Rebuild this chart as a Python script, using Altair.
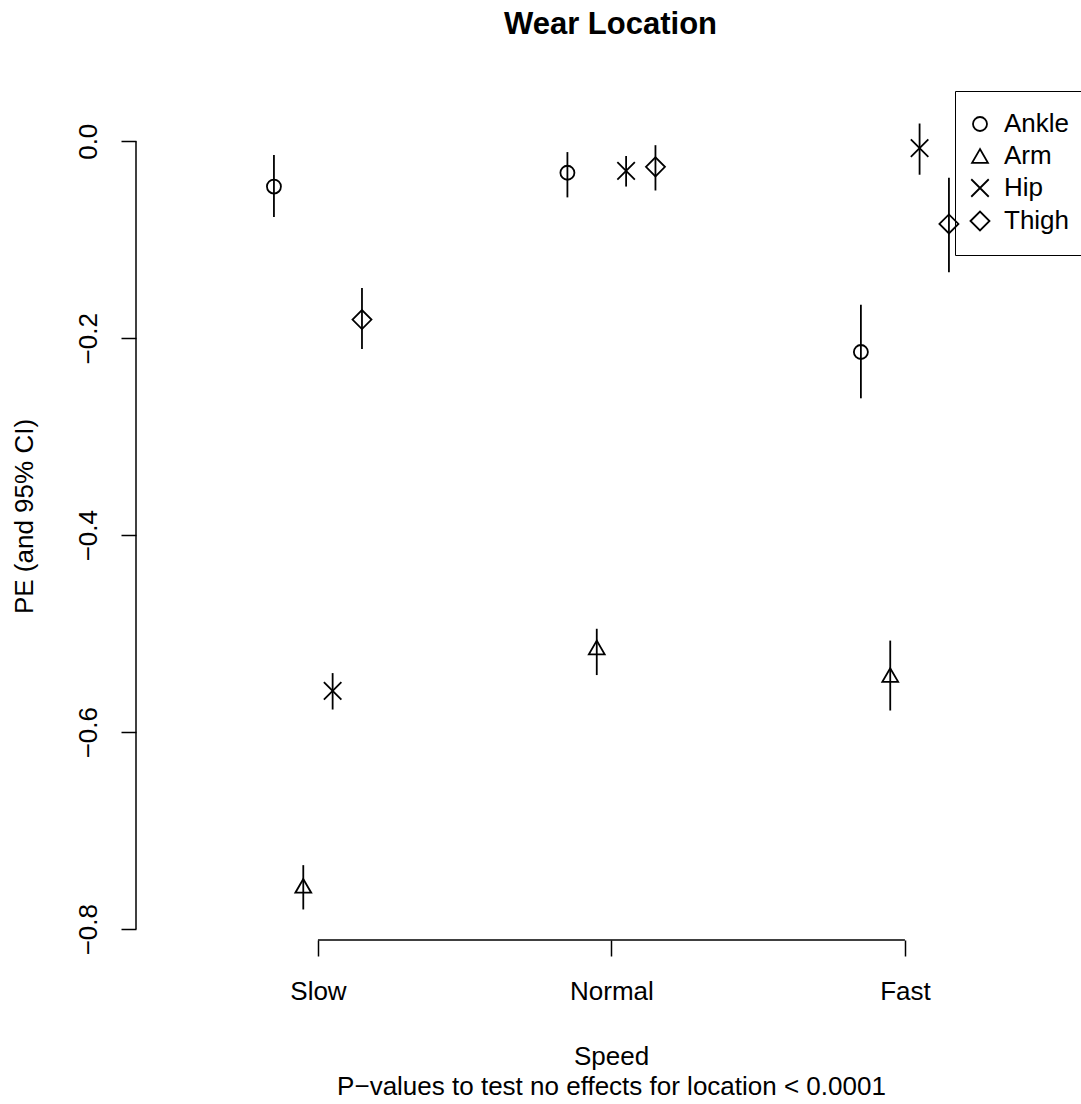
import altair as alt
import pandas as pd

# ---- data -------------------------------------------------------------
speeds = ["Slow", "Normal", "Fast"]
locations = ["Ankle", "Arm", "Hip", "Thigh"]

# point estimates per location, ordered Slow, Normal, Fast
pe_ankle = [-0.046, -0.032, -0.214]
pe_arm = [-0.756, -0.514, -0.542]
pe_hip = [-0.558, -0.030, -0.007]
pe_thigh = [-0.181, -0.026, -0.084]

# lower 95% CI bounds
lo_ankle = [-0.077, -0.057, -0.261]
lo_arm = [-0.780, -0.542, -0.578]
lo_hip = [-0.577, -0.046, -0.034]
lo_thigh = [-0.211, -0.050, -0.133]

# upper 95% CI bounds
hi_ankle = [-0.014, -0.011, -0.166]
hi_arm = [-0.735, -0.495, -0.507]
hi_hip = [-0.540, -0.015, 0.018]
hi_thigh = [-0.149, -0.004, -0.037]

y_ticks = [-0.8, -0.6, -0.4, -0.2, 0.0]
x_title = ["Speed", "P\u2212values to test no effects for location < 0.0001"]

pe = {"Ankle": pe_ankle, "Arm": pe_arm, "Hip": pe_hip, "Thigh": pe_thigh}
lo = {"Ankle": lo_ankle, "Arm": lo_arm, "Hip": lo_hip, "Thigh": lo_thigh}
hi = {"Ankle": hi_ankle, "Arm": hi_arm, "Hip": hi_hip, "Thigh": hi_thigh}

# side-by-side dodge of the four locations within each speed
dodge = {"Ankle": -0.15, "Arm": -0.05, "Hip": 0.05, "Thigh": 0.15}

rows = []
for loc in locations:
    for i, sp in enumerate(speeds):
        rows.append({
            "location": loc,
            "speed": sp,
            "pos": i + 1 + dodge[loc],
            "pe": pe[loc][i],
            "lo": lo[loc][i],
            "hi": hi[loc][i],
        })
df = pd.DataFrame(rows)

# ---- layout -----------------------------------------------------------
W, H = 945, 848
FONT = "Liberation Sans"

xscale = alt.Scale(domain=[0.38, 3.6], nice=False, zero=False)
yscale = alt.Scale(domain=[-0.811, 0.050], nice=False, zero=False)

label_expr = "[" + ",".join("'%s'" % s for s in speeds) + "][datum.value - 1]"

xaxis = alt.Axis(
    values=list(range(1, len(speeds) + 1)),
    labelExpr=label_expr,
    domain=False, grid=False,
    tickSize=16, tickColor="black", tickWidth=1.5,
    labelFont=FONT, labelFontSize=26, labelColor="black",
    labelBaseline="top", labelPadding=22, labelFlush=False,
    title=x_title, titleFont=FONT, titleFontSize=26, titleFontWeight="normal",
    titleColor="black", titleX=475, titleY=103, titleBaseline="top",
    titleAlign="center", titleLineHeight=30,
)
yaxis = alt.Axis(
    values=y_ticks, format=".1f",
    domain=False, grid=False,
    tickSize=15, tickColor="black", tickWidth=1.5,
    labelFont=FONT, labelFontSize=26, labelColor="black",
    labelAngle=270, labelAlign="center", labelBaseline="alphabetic",
    labelPadding=25, labelFlush=False,
    title="PE (and 95% CI)", titleFont=FONT, titleFontSize=26,
    titleFontWeight="normal", titleColor="black",
    titleAngle=270, titleAlign="center", titleBaseline="alphabetic",
    titleX=-104, titleY=H / 2,
)

shape_range = ["circle", "triangle-up", "M-1,-1L1,1M-1,1L1,-1", "diamond"]
size_range = [196, 361, 150, 380]

location_legend = alt.Legend(
    orient="none", legendX=819, legendY=-1, title=None,
    padding=20, strokeColor="black",
    labelFont=FONT, labelFontSize=26, labelColor="black",
    labelOffset=11, labelLimit=400, rowPadding=6,
    symbolOffset=-8, symbolStrokeWidth=1.8,
    symbolStrokeColor="black", symbolFillColor="transparent",
)

base = alt.Chart(df)

# confidence intervals
ci = base.mark_rule(color="black", strokeWidth=1.8).encode(
    x=alt.X("pos:Q", scale=xscale, axis=xaxis),
    y=alt.Y("lo:Q", scale=yscale, axis=yaxis),
    y2="hi:Q",
)

# point estimates, one symbol per wear location
points = base.mark_point(filled=False, color="black", strokeWidth=1.8, opacity=1).encode(
    x=alt.X("pos:Q", scale=xscale, axis=xaxis),
    y=alt.Y("pe:Q", scale=yscale, axis=yaxis),
    shape=alt.Shape(
        "location:N",
        scale=alt.Scale(domain=locations, range=shape_range),
        legend=location_legend,
    ),
    size=alt.Size(
        "location:N",
        scale=alt.Scale(domain=locations, range=size_range),
        legend=location_legend,
    ),
)

# axis lines spanning only the tick range
xline = alt.Chart(pd.DataFrame({"a": [1], "b": [len(speeds)]})).mark_rule(
    color="black", strokeWidth=1.5
).encode(
    x=alt.X("a:Q", scale=xscale, axis=xaxis),
    x2="b:Q",
    y=alt.value(H),
)
yline = alt.Chart(pd.DataFrame({"a": [min(y_ticks)], "b": [max(y_ticks)]})).mark_rule(
    color="black", strokeWidth=1.5
).encode(
    y=alt.Y("a:Q", scale=yscale, axis=yaxis),
    y2="b:Q",
    x=alt.value(0),
)

chart = alt.layer(ci, points, xline, yline).properties(
    width=W,
    height=H,
    title=alt.TitleParams(
        "Wear Location", font=FONT, fontSize=31, fontWeight="bold",
        color="black", anchor="middle", frame="group",
        baseline="alphabetic", offset=26, dx=2,
    ),
    autosize=alt.AutoSizeParams(type="none"),
    padding={"left": 136, "top": 92, "right": 0, "bottom": 164},
).configure(background="white").configure_view(stroke=None, strokeWidth=0)

chart.save("out.html", embed_options={"renderer": "svg", "actions": False})
